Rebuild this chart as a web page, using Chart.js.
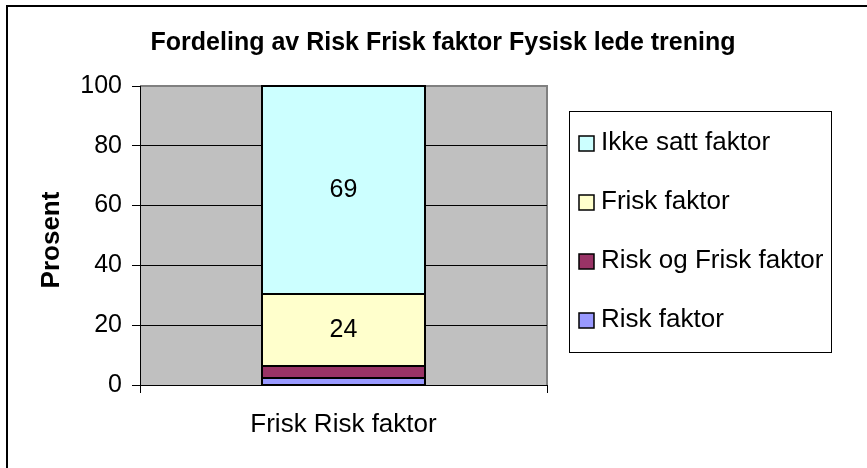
<!DOCTYPE html>
<html><head><meta charset="utf-8">
<script src="https://cdn.jsdelivr.net/npm/chart.js@4.4.0/dist/chart.umd.min.js"></script>
<style>html,body{margin:0;padding:0;background:#fff;overflow:hidden}canvas{display:block}</style>
</head><body>
<canvas id="c" width="867" height="468"></canvas>
<script>
const categories = ['Frisk Risk faktor'];
const seriesNames = ['Risk faktor', 'Risk og Frisk faktor', 'Frisk faktor', 'Ikke satt faktor'];
const riskFaktor = [2.2];
const riskOgFrisk = [4.1];
const friskFaktor = [24.3];
const ikkeSatt = [69.4];
const yTicks = [0, 20, 40, 60, 80, 100];
const chartTitle = 'Fordeling av Risk Frisk faktor Fysisk lede trening';
const yTitle = 'Prosent';
const seriesColors = ['#9999FF', '#993366', '#FFFFCC', '#CCFFFF'];
const showValue = [false, false, true, true];

const FONT = '"Liberation Sans", Arial, sans-serif';
const seriesValues = [riskFaktor, riskOgFrisk, friskFaktor, ikkeSatt];

const frame = {
  id: 'frame',
  beforeDraw(chart) {
    const {ctx, chartArea: a} = chart;
    ctx.save();
    ctx.fillStyle = '#fff';
    ctx.fillRect(0, 0, chart.width, chart.height);
    ctx.strokeStyle = '#000';
    ctx.lineWidth = 2;
    ctx.beginPath();
    ctx.moveTo(7, chart.height + 2);
    ctx.lineTo(7, 6);
    ctx.lineTo(chart.width + 2, 6);
    ctx.stroke();
    ctx.fillStyle = '#C0C0C0';
    ctx.fillRect(a.left, a.top, a.right - a.left, a.bottom - a.top);
    ctx.strokeStyle = '#808080';
    ctx.lineWidth = 2;
    ctx.beginPath();
    ctx.moveTo(a.left, a.top);
    ctx.lineTo(a.right, a.top);
    ctx.lineTo(a.right, a.bottom);
    ctx.stroke();
    ctx.restore();
  },
  afterDatasetsDraw(chart) {
    const ctx = chart.ctx;
    ctx.save();
    // bar outlines
    ctx.strokeStyle = '#000';
    ctx.lineWidth = 2;
    chart.data.datasets.forEach((ds, i) => {
      chart.getDatasetMeta(i).data.forEach(bar => {
        const p = bar.getProps(['x', 'y', 'base', 'width'], true);
        const l = Math.round(p.x - p.width / 2), r = Math.round(p.x + p.width / 2);
        const t = Math.round(Math.min(p.y, p.base)), b = Math.round(Math.max(p.y, p.base));
        ctx.strokeRect(l, t, r - l, b - t);
      });
    });
    ctx.fillStyle = '#000';
    ctx.font = '25px ' + FONT;
    ctx.textAlign = 'center';
    ctx.textBaseline = 'middle';
    chart.data.datasets.forEach((ds, i) => {
      if (!showValue[i]) return;
      const meta = chart.getDatasetMeta(i);
      meta.data.forEach((bar, j) => {
        const p = bar.getProps(['x', 'y', 'base'], true);
        ctx.fillText(String(Math.round(ds.data[j])), p.x, (p.y + p.base) / 2);
      });
    });
    ctx.restore();
  },
  afterDraw(chart) {
    const ctx = chart.ctx;
    ctx.save();
    ctx.fillStyle = '#000';
    // title
    ctx.font = 'bold 25px ' + FONT;
    ctx.textAlign = 'center';
    ctx.textBaseline = 'middle';
    ctx.fillText(chartTitle, 443, 43);
    // y title
    ctx.save();
    ctx.translate(52, 240);
    ctx.rotate(-Math.PI / 2);
    ctx.font = 'bold 26px ' + FONT;
    ctx.fillText(yTitle, 0, 0);
    ctx.restore();
    // legend
    ctx.fillStyle = '#fff';
    ctx.fillRect(569, 111, 262, 241);
    ctx.strokeStyle = '#000';
    ctx.lineWidth = 1;
    ctx.strokeRect(569.5, 111.5, 262, 241);
    ctx.font = '26px ' + FONT;
    ctx.textAlign = 'left';
    ctx.textBaseline = 'middle';
    const ds = chart.data.datasets;
    for (let k = 0; k < ds.length; k++) {
      const i = ds.length - 1 - k;
      const cy = 143 + k * 59;
      ctx.fillStyle = ds[i].backgroundColor;
      ctx.fillRect(579, cy - 7, 15, 15);
      ctx.strokeStyle = '#000';
      ctx.lineWidth = 1.5;
      ctx.strokeRect(579, cy - 7, 15, 15);
      ctx.fillStyle = '#000';
      ctx.fillText(ds[i].label, 601, cy);
    }
    ctx.restore();
  }
};

new Chart(document.getElementById('c'), {
  type: 'bar',
  data: {
    labels: categories,
    datasets: seriesNames.map((name, i) => ({
      label: name,
      data: seriesValues[i],
      backgroundColor: seriesColors[i],
      borderWidth: 0,
      inflateAmount: 0,
      barPercentage: 0.4,
      categoryPercentage: 1.0
    }))
  },
  options: {
    responsive: false,
    animation: false,
    devicePixelRatio: 1,
    layout: {padding: {left: 0, top: 86, right: 320, bottom: 0}},
    plugins: {legend: {display: false}, title: {display: false}, tooltip: {enabled: false}},
    scales: {
      x: {
        stacked: true,
        grid: {offset: true, drawOnChartArea: false, tickLength: 8, color: '#000', tickColor: '#000'},
        border: {color: '#000', width: 1},
        ticks: {font: {family: FONT, size: 26}, color: '#000', padding: 16, maxRotation: 0},
        afterFit(s) { s.height = 83; }
      },
      y: {
        stacked: true,
        min: 0,
        max: 100,
        afterBuildTicks(s) { s.ticks = yTicks.map(v => ({value: v})); },
        ticks: {font: {family: FONT, size: 25}, color: '#000', padding: 10},
        grid: {color: c => (c.tick && c.tick.value === 100) ? 'rgba(0,0,0,0)' : '#000', tickColor: '#000', tickLength: 8},
        border: {color: '#000', width: 1},
        afterFit(s) { s.width = 140; }
      }
    }
  },
  plugins: [frame]
});
</script>
</body></html>
